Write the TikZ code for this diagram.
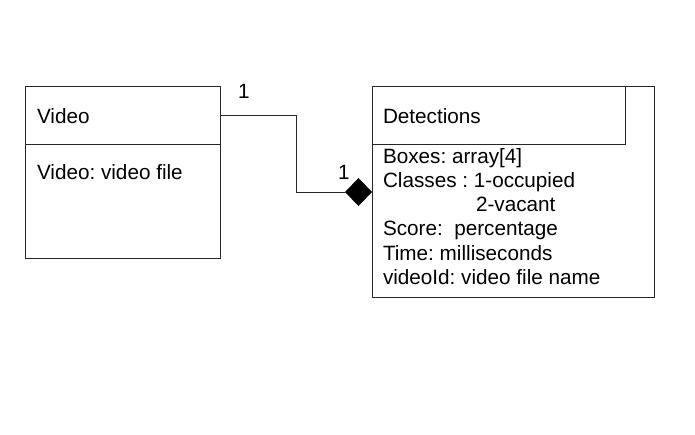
\documentclass[tikz,border=0pt]{standalone}
\usepackage{fontspec}
\setmainfont{Liberation Sans}
\usetikzlibrary{shapes.geometric}
\frenchspacing
\begin{document}
\begin{tikzpicture}[x=1pt,y=-1pt,
  box/.style={draw=black!85,line width=1pt,inner sep=0pt,outer sep=0pt,anchor=north west},
  txt/.style={inner sep=0pt,outer sep=0pt,anchor=base west,font=\fontsize{20.7}{24}\selectfont},
  lbl/.style={inner sep=0pt,outer sep=0pt,anchor=base,font=\fontsize{20.7}{24}\selectfont},
  conn/.style={draw=black!85,line width=1pt}]
\useasboundingbox (0,0) rectangle (695,434);
% Video class
\node[box,minimum width=195pt,minimum height=172pt] (video) at (25,86) {};
\node[box,minimum width=195pt,minimum height=58pt] (vhead) at (25,86) {};
\node[txt] (vname) at (37,123) {Video};
\node[txt] (vattr) at (37,179) {Video: video file};
% Detections class
\node[box,minimum width=282pt,minimum height=211pt] (det) at (372,86) {};
\node[box,minimum width=253pt,minimum height=58pt] (dhead) at (372,86) {};
\node[txt] (dname) at (383,123) {Detections};
\node[txt] (a1) at (383,163) {Boxes: array[4]};
\node[txt] (a2) at (383,187) {Classes : 1-occupied};
\node[txt] (a3) at (476,211) {2-vacant};
\node[txt] (a4) at (383,235) {Score:\ \ percentage};
\node[txt] (a5) at (383,260) {Time: milliseconds};
\node[txt] (a6) at (383,284) {videoId: video file name};
% composition
\node[diamond,fill=black,draw=none,inner sep=0pt,outer sep=0pt,minimum width=27pt,minimum height=28pt] (dia) at (358.5,192) {};
\coordinate (bend) at (296,115);
\draw[conn] (vhead.east) -- (bend) |- (dia.west);
\node[lbl] (m1) at (244,98) {1};
\node[lbl] (m2) at (344,179) {1};
\end{tikzpicture}
\end{document}
